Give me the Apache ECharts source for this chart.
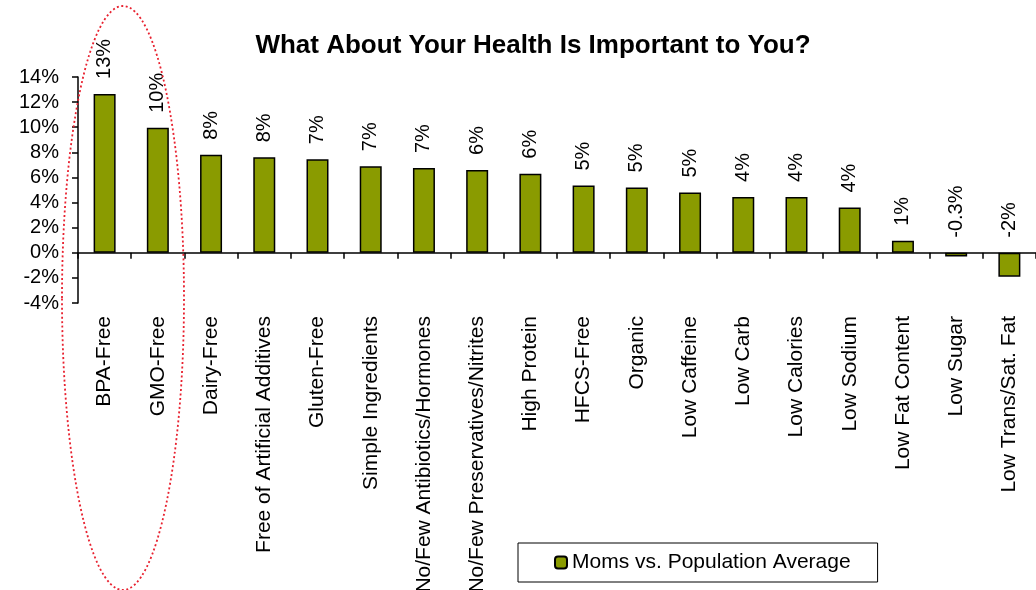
<!DOCTYPE html>
<html>
<head>
<meta charset="utf-8">
<style>
  html, body { margin: 0; padding: 0; background: #ffffff; }
  #chart { width: 1036px; height: 590px; }
</style>
<script src="https://cdn.jsdelivr.net/npm/echarts@6/dist/echarts.min.js"></script>
</head>
<body>
<div id="chart"></div>
<script>
var categories = [
  "BPA-Free", "GMO-Free", "Dairy-Free", "Free of Artificial Additives", "Gluten-Free",
  "Simple Ingredients", "No/Few Antibiotics/Hormones", "No/Few Preservatives/Nitrites",
  "High Protein", "HFCS-Free", "Organic", "Low Caffeine", "Low Carb", "Low Calories",
  "Low Sodium", "Low Fat Content", "Low Sugar", "Low Trans/Sat. Fat"
];
var values = [12.65, 9.95, 7.8, 7.6, 7.45, 6.9, 6.75, 6.6, 6.3, 5.35, 5.2, 4.8, 4.45, 4.45, 3.6, 0.95, -0.3, -1.9];
var valueLabels = ["13%", "10%", "8%", "8%", "7%", "7%", "7%", "6%", "6%", "5%", "5%", "5%", "4%", "4%", "4%", "1%", "-0.3%", "-2%"];
var yTicks = { min: -4, max: 14, interval: 2 };
var seriesName = "Moms vs. Population Average";

var FONT = "Liberation Sans, Arial, sans-serif";
var chart = echarts.init(document.getElementById('chart'));

var data = values.map(function (v, i) {
  return { value: v, label: { formatter: valueLabels[i] } };
});

chart.setOption({
  animation: false,
  backgroundColor: '#ffffff',
  title: {
    text: 'What About Your Health Is Important to You?',
    left: 528, top: 28, textAlign: 'center',
    textStyle: { fontFamily: FONT, fontWeight: 'bold', fontSize: 26, color: '#000' }
  },
  legend: {
    left: 518, top: 543,
    padding: [9, 27, 9, 36],
    borderColor: '#000', borderWidth: 1,
    itemWidth: 12, itemHeight: 12, itemGap: 5,
    textStyle: { fontFamily: FONT, fontSize: 21, color: '#000' },
    data: [seriesName]
  },
  grid: { left: 78, right: 0, top: 77, bottom: 287, containLabel: false, outerBoundsMode: 'none' },
  xAxis: {
    type: 'category',
    data: categories,
    axisLine: { onZero: true, lineStyle: { color: '#000', width: 1.5 } },
    axisTick: { show: true, length: 6, lineStyle: { color: '#000', width: 1.5 } },
    axisLabel: {
      rotate: 90, margin: 13, interval: 0,
      fontFamily: FONT, fontSize: 21, color: '#000'
    },
    splitLine: { show: false }
  },
  yAxis: {
    type: 'value',
    min: yTicks.min, max: yTicks.max, interval: yTicks.interval,
    axisLine: { show: true, lineStyle: { color: '#000', width: 1.5 } },
    axisTick: { show: true, length: 6, lineStyle: { color: '#000', width: 1.5 } },
    axisLabel: {
      formatter: '{value}%', margin: 19,
      fontFamily: FONT, fontSize: 20, color: '#000'
    },
    splitLine: { show: false }
  },
  series: [{
    name: seriesName,
    type: 'bar',
    data: data,
    barWidth: 22,
    itemStyle: { color: '#8A9B00', borderColor: '#000', borderWidth: 1.5 },
    label: {
      show: true, position: 'top', rotate: 90, align: 'left', verticalAlign: 'middle',
      distance: 15, fontFamily: FONT, fontSize: 20, color: '#000'
    }
  }],
  graphic: [{
    type: 'ellipse',
    shape: { cx: 123, cy: 298, rx: 61, ry: 292 },
    style: { fill: null, stroke: '#e8212f', lineWidth: 1.8, lineDash: [2, 2.5] },
    z: 100
  }]
});
</script>
</body>
</html>
